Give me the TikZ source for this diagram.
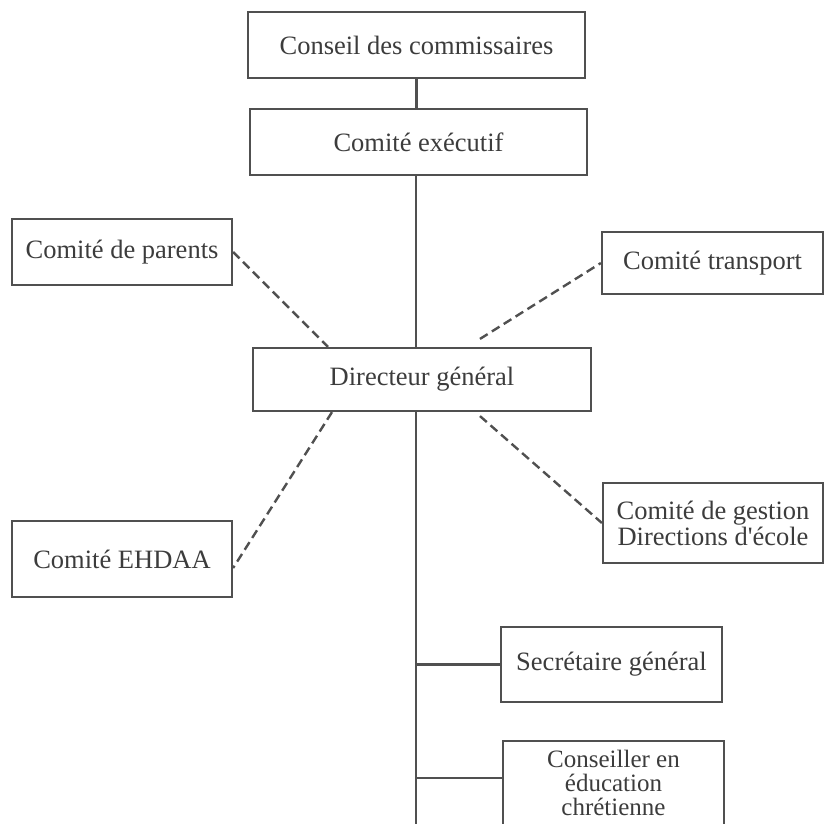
\documentclass[tikz,border=0pt]{standalone}
\usepackage{fontspec}
\setmainfont{Liberation Serif}
\definecolor{ink}{HTML}{505050}
\definecolor{txt}{HTML}{3C3C3C}
\tikzset{
  box/.style={draw=ink, line width=2.2pt, text=txt, align=center, inner sep=2pt,
    font=\fontsize{26.5}{26}\selectfont},
  link/.style={draw=ink, line width=2.2pt},
  dlink/.style={draw=ink, line width=2.4pt, dash pattern=on 9pt off 5pt}
}
\begin{document}
\begin{tikzpicture}[x=1pt, y=-1pt]
        \useasboundingbox (0,0) rectangle (824,823);
        \clip (0,0) rectangle (824,823);

        \node[box, minimum width=337pt, minimum height=66pt] (conseil) at (416.5,45) {Conseil des commissaires};
        \node[box, minimum width=337pt, minimum height=66pt] (exec) at (418.5,142) {Comit\'e ex\'ecutif};
        \node[box, minimum width=220pt, minimum height=66pt] (parents) at (122,252) {Comit\'e de parents};
        \node[box, minimum width=221pt, minimum height=62pt] (transport) at (712.5,263) {Comit\'e transport};
        \node[box, minimum width=338pt, minimum height=63pt] (dg) at (422,379.5) {Directeur g\'en\'eral};
        \node[box, minimum width=220pt, minimum height=80pt] (gestion) at (713,523) {Comit\'e de gestion\\Directions d\textquotesingle\'ecole};
        \node[box, minimum width=220pt, minimum height=76pt] (ehdaa) at (122,559) {Comit\'e EHDAA};
        \node[box, minimum width=221pt, minimum height=75pt] (sg) at (611.5,664.5) {Secr\'etaire g\'en\'eral};
        \node[box, minimum width=221pt, minimum height=84pt, font=\fontsize{25}{24}\selectfont] (cec) at (613.5,783) {Conseiller en\\\'education\\chr\'etienne};
        \coordinate (bas) at (416,830);

        \draw[link] (conseil.south) -- (conseil.south |- exec.north);
        \draw[link] (bas |- exec.south) -- (bas |- dg.north);
        \draw[link] (bas |- dg.south) -- (bas);
        \draw[link] (bas |- sg.west) -- (sg.west);
        \draw[link] ([yshift=5pt]cec.west -| bas) -- ([yshift=5pt]cec.west);

        \draw[dlink] (parents.east) -- ([xshift=-94pt]dg.north);
        \draw[dlink] ([xshift=58pt,yshift=8pt]dg.north) -- (transport.west);
        \draw[dlink] ([xshift=58pt,yshift=-4pt]dg.south) -- (gestion.west);
        \draw[dlink] ([xshift=-90pt]dg.south) -- ([yshift=-9pt]ehdaa.east);
      \end{tikzpicture}
\end{document}
